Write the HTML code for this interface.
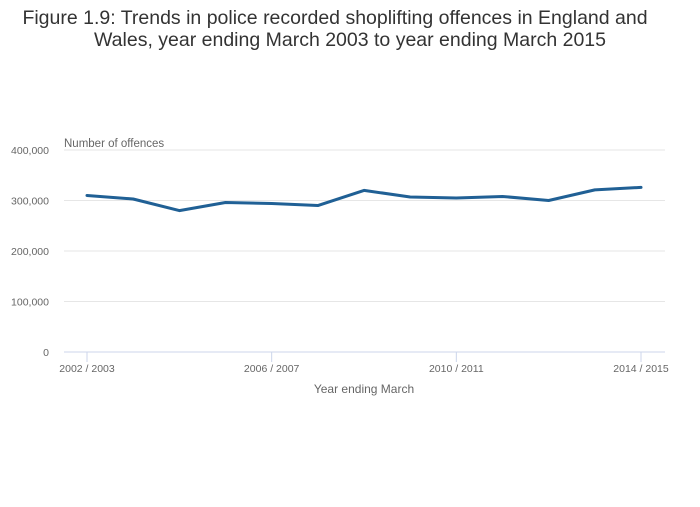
<!DOCTYPE html>
<html><head><meta charset="utf-8"><style>
body{margin:0;background:#fff;width:700px;height:502px;overflow:hidden;font-family:"Liberation Sans",sans-serif}
</style></head><body>
<svg width="700" height="502">
<text x="335" y="24" text-anchor="middle" font-size="19.5" fill="#333">Figure 1.9: Trends in police recorded shoplifting offences in England and</text>
<text x="350" y="46" text-anchor="middle" font-size="19.5" fill="#333">Wales, year ending March 2003 to year ending March 2015</text>
<text x="64" y="147" font-size="11.5" fill="#666">Number of offences</text>
<text x="364" y="393" text-anchor="middle" font-size="12" fill="#666">Year ending March</text>
<g id="grid"></g><g id="ticks"></g><g id="series"></g>
</svg>
<script>
const categories=["2002 / 2003","2003 / 2004","2004 / 2005","2005 / 2006","2006 / 2007","2007 / 2008","2008 / 2009","2009 / 2010","2010 / 2011","2011 / 2012","2012 / 2013","2013 / 2014","2014 / 2015"];
const values=[310000,303000,280000,296000,294000,290000,320000,307000,305000,308000,300000,321000,326000];
const yTicks=[0,100000,200000,300000,400000];
const yTickLabels=["0","100,000","200,000","300,000","400,000"];
const xTickIdx=[0,4,8,12];
const NS="http://www.w3.org/2000/svg";
const x=i=>87+i*(641-87)/12;
const y=v=>352-v/400000*202;
function mk(t,a,p){const e=document.createElementNS(NS,t);for(const k in a)e.setAttribute(k,a[k]);p.appendChild(e);return e;}
const g=document.getElementById('grid'),tk=document.getElementById('ticks'),s=document.getElementById('series');
yTicks.forEach((v,i)=>{
 const l=mk('line',{x1:64,x2:665,y1:y(v),y2:y(v),stroke:i==0?'#ccd6eb':'#e6e6e6','stroke-width':1},g);
 
 
 const t=mk('text',{x:49,y:y(v)+4,'text-anchor':'end','font-size':10.5,fill:'#666'},tk);t.textContent=yTickLabels[i];
 
 
});
xTickIdx.forEach(i=>{
 const l=mk('line',{x1:x(i),x2:x(i),y1:352,y2:362,stroke:'#ccd6eb'},tk);
 
 
 const t=mk('text',{x:x(i),y:372,'text-anchor':'middle','font-size':10.5,fill:'#666'},tk);t.textContent=categories[i];
 
 
});
const p=mk('polyline',{points:values.map((v,i)=>x(i)+','+y(v)).join(' '),fill:'none',stroke:'#206095','stroke-width':3,'stroke-linejoin':'round','stroke-linecap':'round'},s);


</script>
</body></html>
